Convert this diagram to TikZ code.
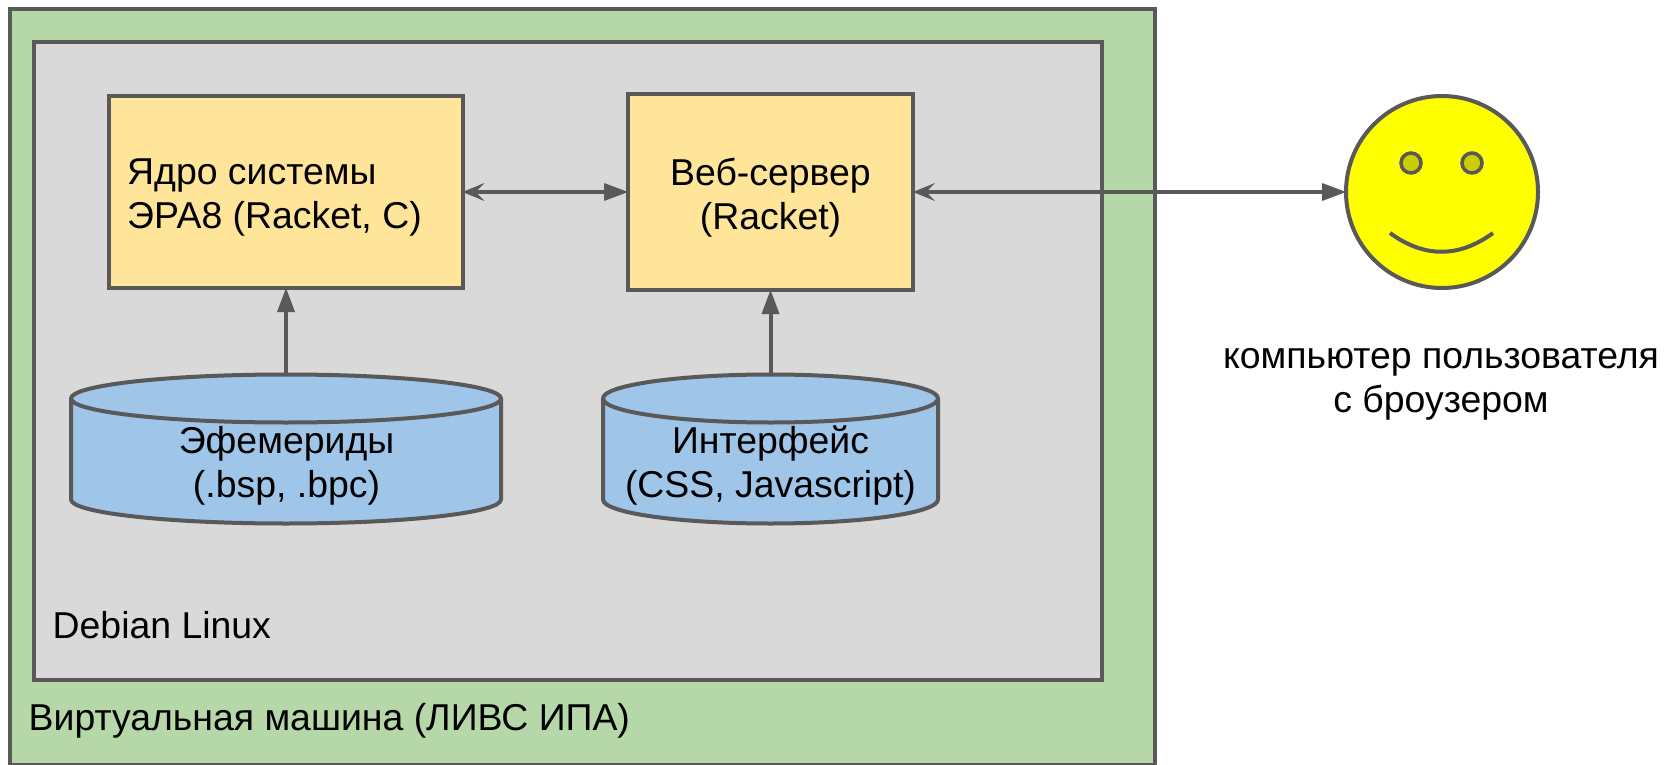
\documentclass[tikz,border=0pt]{standalone}
\usepackage{fontspec}
\setmainfont{Liberation Sans}
\usetikzlibrary{arrows.meta}
\definecolor{edge}{HTML}{595959}
\definecolor{vmgreen}{HTML}{B6D7A8}
\definecolor{osgray}{HTML}{D9D9D9}
\definecolor{boxyellow}{HTML}{FFE599}
\definecolor{dbblue}{HTML}{9FC5E8}
\definecolor{eye}{HTML}{CCCC00}
\definecolor{face}{HTML}{FFFF00}
\newcommand{\drumshape}[2]{% node name, horizontal radius
  \draw[drumline] ([yshift=-24pt]#1.north west)
     arc[start angle=180,end angle=0,x radius=#2pt,y radius=24pt]
     -- ([yshift=24pt]#1.south east)
     arc[start angle=0,end angle=-180,x radius=#2pt,y radius=24pt]
     -- cycle;
  \draw[drumline,fill=none] ([yshift=-24pt]#1.north west)
     arc[start angle=180,end angle=360,x radius=#2pt,y radius=24pt];
}
\tikzset{
  x=1pt,y=-1pt,
  lbl/.style={font=\fontsize{37.4}{44}\selectfont,text=black,inner sep=0pt,align=center},
  panel/.style={draw=edge,line width=4pt,inner sep=0pt,outer sep=0pt,minimum width=#1},
  dbframe/.style={inner sep=0pt,outer sep=0pt,minimum width=#1,minimum height=149pt},
  drumline/.style={draw=edge,fill=dbblue,line width=4pt,line join=round},
  conn/.style={draw=edge,line width=4pt},
  solidtip/.tip={Triangle[length=24pt,width=18pt,sep=0pt,line width=0pt]},
  opentip/.tip={Stealth[length=22pt,width=18pt,inset=9pt,line width=0pt]},
}
\begin{document}
\begin{tikzpicture}
\useasboundingbox (0,0) rectangle (1665,765);
\node[panel=1145pt,fill=vmgreen,minimum height=756pt] (vm) at (582.5,387) {};
\node[panel=1068pt,fill=osgray,minimum height=638pt] (os) at (568,361) {};
\node[panel=354pt,fill=boxyellow,minimum height=192pt] (core) at (285.5,192) {};
\node[panel=285pt,fill=boxyellow,minimum height=196pt] (web) at (770.5,192) {};
\node[lbl,align=left,anchor=west] (corel) at (127,197.5) {Ядро системы\\ЭРА8 (Racket, C)};
\node[lbl] (webl) at (770.5,197.5) {Веб-сервер\\(Racket)};
\node[dbframe=430pt] (eph) at (286,449) {};
\node[dbframe=335pt] (ui) at (770.5,449) {};
\drumshape{eph}{215}
\drumshape{ui}{167.5}
\node[lbl] (ephl) at (286.5,465.5) {Эфемериды\\(.bsp, .bpc)};
\node[lbl] (uil) at (770.5,465.5) {Интерфейс\\(CSS, Javascript)};
\node[lbl,anchor=base west] (deb) at (52.5,638) {Debian Linux};
\node[lbl,anchor=base west] (vml) at (28.5,730) {Виртуальная машина (ЛИВС ИПА)};
\node[circle,draw=edge,fill=face,line width=4pt,minimum size=192pt,inner sep=0pt,outer sep=0pt] (user) at (1442,192) {};
\node[circle,draw=edge,fill=eye,line width=3.5pt,minimum size=20pt,inner sep=0pt] (eyeL) at (1411,163) {};
\node[circle,draw=edge,fill=eye,line width=3.5pt,minimum size=20pt,inner sep=0pt] (eyeR) at (1472,163) {};
\coordinate (smileL) at (1390,233);
\coordinate (smileR) at (1493,233);
\draw[conn] (smileL) .. controls (1424,258) and (1459,258) .. (smileR);
\node[lbl] (userl) at (1441,384) {компьютер пользователя\\с броузером};
\draw[conn,{opentip}-{solidtip}] (core.east) -- (web.west);
\draw[conn,{opentip}-{solidtip}] (web.east) -- (user.west);
\draw[conn,-{solidtip}] (eph.north) -- (eph.north |- core.south);
\draw[conn,-{solidtip}] (ui.north) -- (web.south);
\end{tikzpicture}
\end{document}
